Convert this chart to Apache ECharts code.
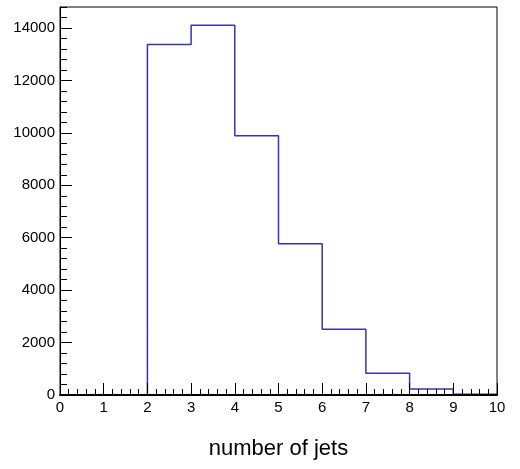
<!DOCTYPE html>
<html>
<head>
<meta charset="utf-8">
<script src="https://cdn.jsdelivr.net/npm/echarts@6/dist/echarts.min.js"></script>
<style>
html,body{margin:0;padding:0;background:#fff;}
#chart{width:520px;height:469px;}
</style>
</head>
<body>
<div id="chart"></div>
<script>
// Histogram: number of jets
const binEdges = [0, 1, 2, 3, 4, 5, 6, 7, 8, 9, 10];
const binCounts = [0, 0, 13370, 14100, 9890, 5770, 2505, 828, 232, 32];
const xAxisTitle = 'number of jets';
const yMax = 14800;

const stepData = [];
for (let i = 0; i < binCounts.length; i++) {
  stepData.push([binEdges[i], binCounts[i]]);
}
stepData.push([binEdges[binEdges.length - 1], binCounts[binCounts.length - 1]]);

const FONT = "'Liberation Sans', Arial, Helvetica, sans-serif";
const chart = echarts.init(document.getElementById('chart'), null, {renderer: 'canvas'});
chart.setOption({
  animation: false,
  backgroundColor: '#fff',
  grid: {
    left: 60, top: 7, right: 23, bottom: 74,
    show: true, borderColor: '#000', borderWidth: 1, backgroundColor: 'transparent'
  },
  xAxis: {
    type: 'value', min: 0, max: 10, interval: 1, z: 5,
    name: xAxisTitle, nameLocation: 'middle', nameGap: 43,
    nameTextStyle: {fontFamily: FONT, fontSize: 22, color: '#000'},
    axisLine: {show: true, onZero: false, lineStyle: {color: '#000', width: 2}},
    axisTick: {show: true, inside: true, length: 12, lineStyle: {color: '#000', width: 1}},
    minorTick: {show: true, splitNumber: 5, length: 6, lineStyle: {color: '#000', width: 1}},
    axisLabel: {fontFamily: FONT, fontSize: 15, color: '#000', margin: 5, formatter: v => String(v)},
    splitLine: {show: false}, minorSplitLine: {show: false}
  },
  yAxis: [{
    type: 'value', min: 0, max: yMax, interval: 2000, z: 5,
    axisLine: {show: true, lineStyle: {color: '#000', width: 1}},
    axisTick: {show: true, inside: true, length: 12, lineStyle: {color: '#000', width: 1}},
    axisLabel: {fontFamily: FONT, fontSize: 15, color: '#000', margin: 5, showMaxLabel: false, formatter: v => String(v)},
    splitLine: {show: false}
  }, {
    type: 'value', min: 0, max: yMax, interval: 400, position: 'left', offset: 0, z: 5,
    axisLine: {show: false},
    axisTick: {show: true, inside: true, length: 7, lineStyle: {color: '#000', width: 1}},
    axisLabel: {show: false},
    splitLine: {show: false}
  }],
  series: [{
    type: 'line', step: 'end', data: stepData, yAxisIndex: 0,
    showSymbol: false, symbol: 'none', z: 2,
    lineStyle: {color: '#3434b4', width: 1.5},
    clip: false
  }]
});
</script>
</body>
</html>
